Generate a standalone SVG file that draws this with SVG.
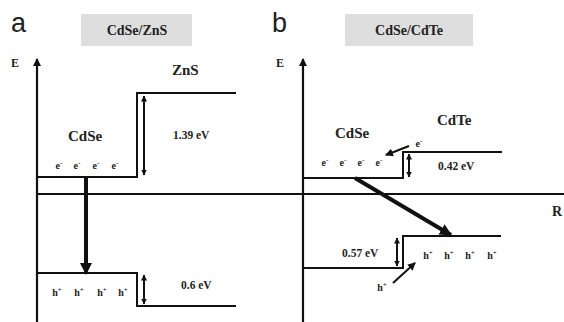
<svg xmlns="http://www.w3.org/2000/svg" width="564" height="322" viewBox="0 0 564 322">
<style>
.ln{stroke:#111;stroke-width:2;fill:none}
.ax{stroke:#111;stroke-width:2.2;fill:none}
.thk{stroke:#111;stroke-width:4;fill:none}
.t{font-weight:bold;fill:#222}
.lab{fill:#222;font-size:27px}
.box{fill:#dedede}
.sm{font-size:10px}
.sup{font-size:7px}
</style>
<defs>
<marker id="ah" markerUnits="userSpaceOnUse" markerWidth="8" markerHeight="8" refX="7" refY="4" orient="auto">
<path d="M0,0 L8,4 L0,8 Z" fill="#111"/>
</marker>
<marker id="as" markerUnits="userSpaceOnUse" markerWidth="6" markerHeight="6" refX="5.5" refY="3" orient="auto-start-reverse">
<path d="M0,0 L6,3 L0,6 Z" fill="#111"/>
</marker>
<marker id="ab" markerUnits="userSpaceOnUse" markerWidth="12" markerHeight="12" refX="11" refY="6" orient="auto">
<path d="M0,0 L12,6 L0,12 Z" fill="#111"/>
</marker>
</defs>

<g id="panel-a-title">
<text class="lab" font-family="'Liberation Sans', Arial, sans-serif" x="11" y="32">a</text>
<rect class="box" x="81" y="14" width="111" height="32"/>
<text class="t" font-family="'Liberation Serif', 'DejaVu Serif', serif" x="137" y="35" font-size="14" text-anchor="middle">CdSe/ZnS</text>
</g>
<g id="panel-b-title">
<text class="lab" font-family="'Liberation Sans', Arial, sans-serif" x="272" y="32">b</text>
<rect class="box" x="345" y="14" width="128" height="32"/>
<text class="t" font-family="'Liberation Serif', 'DejaVu Serif', serif" x="409" y="35" font-size="14" text-anchor="middle">CdSe/CdTe</text>
</g>

<g id="axes" font-family="'Liberation Serif', 'DejaVu Serif', serif">
<line class="ax" x1="37" y1="322" x2="37" y2="59" marker-end="url(#ah)"/>
<text class="t" x="11" y="67" font-size="12">E</text>
<line class="ax" x1="303" y1="322" x2="303" y2="59" marker-end="url(#ah)"/>
<text class="t" x="276" y="67" font-size="12">E</text>
<line class="ax" x1="37" y1="194" x2="564" y2="194"/>
<text class="t" x="552" y="216" font-size="14">R</text>
</g>

<g id="bands-a" font-family="'Liberation Serif', 'DejaVu Serif', serif">
<polyline class="ln" points="37,177 137,177 137,93 236,93"/>
<polyline class="ln" points="37,273 137,273 137,306 236,306"/>
<text class="t" x="68" y="141" font-size="15">CdSe</text>
<text class="t" x="172" y="75" font-size="15">ZnS</text>
<text class="t" x="173" y="139" font-size="11.5">1.39 eV</text>
<text class="t" x="181" y="289" font-size="11.5">0.6 eV</text>
<g class="t sm" text-anchor="middle">
<text x="59" y="169">e<tspan class="sup" dy="-4">-</tspan></text>
<text x="77" y="169">e<tspan class="sup" dy="-4">-</tspan></text>
<text x="96" y="169">e<tspan class="sup" dy="-4">-</tspan></text>
<text x="115" y="169">e<tspan class="sup" dy="-4">-</tspan></text>
<text x="57" y="296">h<tspan class="sup" dy="-4">+</tspan></text>
<text x="79" y="296">h<tspan class="sup" dy="-4">+</tspan></text>
<text x="102" y="296">h<tspan class="sup" dy="-4">+</tspan></text>
<text x="123" y="296">h<tspan class="sup" dy="-4">+</tspan></text>
</g>
</g>

<g id="bands-b" font-family="'Liberation Serif', 'DejaVu Serif', serif">
<polyline class="ln" points="303,178 403,178 403,152 502,152"/>
<polyline class="ln" points="303,268 403,268 403,236 501,236"/>
<text class="t" x="335" y="138" font-size="15">CdSe</text>
<text class="t" x="437" y="125" font-size="15">CdTe</text>
<text class="t" x="438" y="170" font-size="11.5">0.42 eV</text>
<text class="t" x="342" y="257" font-size="11.5">0.57 eV</text>
<g class="t sm" text-anchor="middle">
<text x="325" y="166">e<tspan class="sup" dy="-4">-</tspan></text>
<text x="343" y="166">e<tspan class="sup" dy="-4">-</tspan></text>
<text x="361" y="166">e<tspan class="sup" dy="-4">-</tspan></text>
<text x="379" y="166">e<tspan class="sup" dy="-4">-</tspan></text>
<text x="419" y="147">e<tspan class="sup" dy="-4">-</tspan></text>
<text x="428" y="259">h<tspan class="sup" dy="-4">+</tspan></text>
<text x="449" y="259">h<tspan class="sup" dy="-4">+</tspan></text>
<text x="470" y="259">h<tspan class="sup" dy="-4">+</tspan></text>
<text x="492" y="259">h<tspan class="sup" dy="-4">+</tspan></text>
<text x="382" y="291">h<tspan class="sup" dy="-4">+</tspan></text>
</g>
</g>

<g id="connectors">
<line class="ln" stroke-width="1.6" x1="144" y1="96" x2="144" y2="175" marker-start="url(#as)" marker-end="url(#as)"/>
<line class="ln" stroke-width="1.6" x1="144" y1="275" x2="144" y2="304" marker-start="url(#as)" marker-end="url(#as)"/>
<line class="ln" stroke-width="1.6" x1="409" y1="154" x2="409" y2="177" marker-start="url(#as)" marker-end="url(#as)"/>
<line class="ln" stroke-width="1.6" x1="397" y1="238" x2="397" y2="266" marker-start="url(#as)" marker-end="url(#as)"/>
<line class="thk" x1="86" y1="177" x2="86" y2="274" marker-end="url(#ab)"/>
<line class="thk" x1="355" y1="178" x2="451" y2="235" marker-end="url(#ab)"/>
<line class="ln" x1="409" y1="146" x2="386" y2="155" marker-end="url(#ah)"/>
<line class="ln" x1="393" y1="283" x2="415" y2="263" marker-end="url(#ah)"/>
</g>
</svg>
